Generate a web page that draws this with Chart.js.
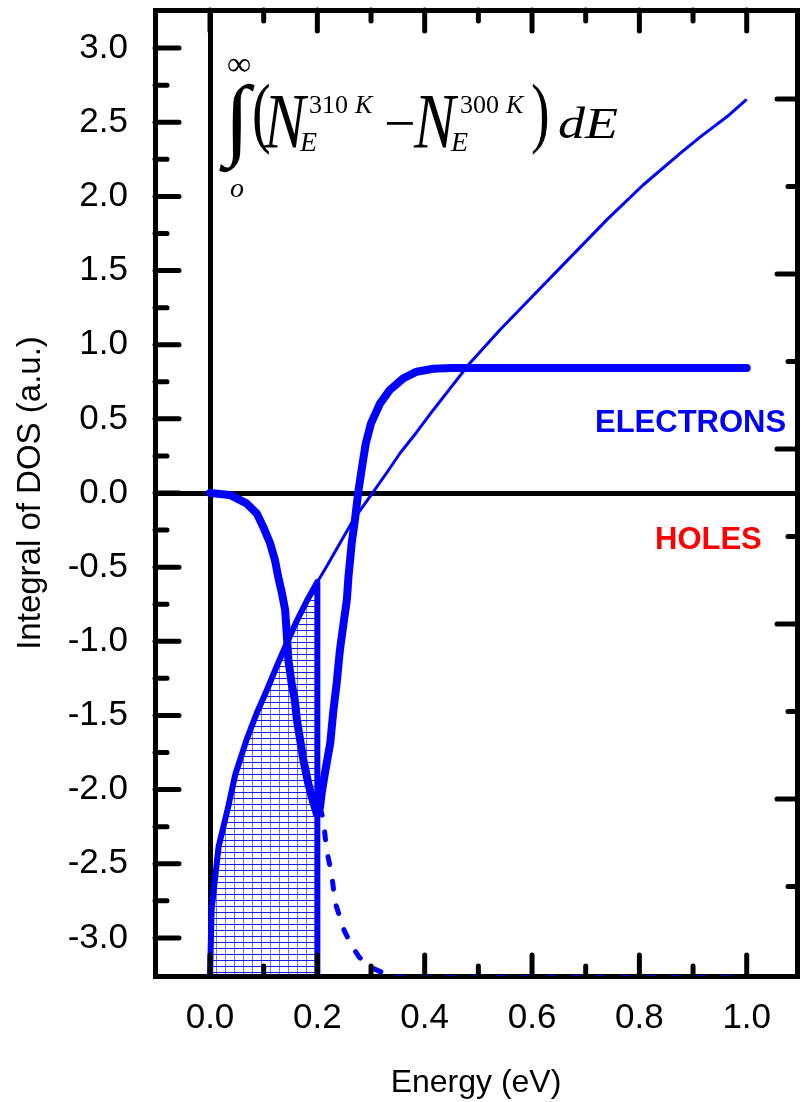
<!DOCTYPE html>
<html><head><meta charset="utf-8">
<script src="https://cdn.jsdelivr.net/npm/chart.js@4/dist/chart.umd.min.js"></script>
<style>html,body{margin:0;padding:0;background:#fff}canvas{display:block}</style>
</head><body>
<canvas id="c" width="801" height="1102"></canvas>
<script>
// ---------- DATA ----------
// total integral (thick lower part with hatched area, 0 .. 0.2 eV)
const leftE = [0.000, 0.003, 0.009, 0.016, 0.025, 0.034, 0.047, 0.068, 0.087, 0.106, 0.124, 0.143, 0.162, 0.180, 0.200];
const leftY = [-3.27, -2.81, -2.61, -2.385, -2.25, -2.115, -1.90, -1.665, -1.485, -1.328, -1.171, -1.013, -0.860, -0.730, -0.600];
// total integral (thin line, 0.2 .. 1.0 eV)
const totalE = [0.200, 0.217, 0.242, 0.267, 0.298, 0.330, 0.354, 0.385, 0.416, 0.450, 0.484, 0.540, 0.600, 0.660, 0.742, 0.807, 0.876, 0.913, 0.963, 1.000];
const totalY = [-0.600, -0.497, -0.339, -0.182, -0.025, 0.140, 0.268, 0.410, 0.560, 0.717, 0.875, 1.099, 1.323, 1.547, 1.852, 2.077, 2.290, 2.400, 2.537, 2.655];
// holes (thick, going down)
const holesE = [0.000, 0.037, 0.068, 0.087, 0.099, 0.112, 0.121, 0.127, 0.134, 0.140, 0.143, 0.146, 0.152, 0.158, 0.162, 0.168, 0.174, 0.183, 0.192, 0.199];
const holesY = [0.000, -0.013, -0.070, -0.137, -0.227, -0.339, -0.452, -0.564, -0.676, -0.789, -0.950, -1.126, -1.283, -1.396, -1.531, -1.666, -1.800, -1.958, -2.080, -2.160];
// holes (dashed continuation)
const dashE = [0.205, 0.211, 0.217, 0.227, 0.233, 0.250, 0.265, 0.278, 0.300, 0.322, 0.350, 1.000];
const dashY = [-2.120, -2.200, -2.400, -2.580, -2.760, -2.950, -3.060, -3.130, -3.200, -3.235, -3.268, -3.268];
// electrons (thick, rising to plateau)
const elecE = [0.199, 0.205, 0.208, 0.214, 0.224, 0.230, 0.236, 0.242, 0.248, 0.255, 0.258, 0.264, 0.270, 0.276, 0.283, 0.290, 0.300, 0.317, 0.335, 0.360, 0.385, 0.416, 0.450, 1.000];
const elecY = [-2.160, -2.120, -2.025, -1.890, -1.688, -1.463, -1.283, -1.060, -0.900, -0.720, -0.564, -0.339, -0.182, 0.000, 0.170, 0.330, 0.470, 0.605, 0.695, 0.773, 0.818, 0.838, 0.843, 0.843];

// ticks
const xMajorTicks = [0.0, 0.2, 0.4, 0.6, 0.8, 1.0];
const xMinorTicks = [0.1, 0.3, 0.5, 0.7, 0.9];
const yMajorTicks = [-3.0, -2.5, -2.0, -1.5, -1.0, -0.5, 0.0, 0.5, 1.0, 1.5, 2.0, 2.5, 3.0];
const yMinorTicks = [-2.75, -2.25, -1.75, -1.25, -0.75, -0.25, 0.25, 0.75, 1.25, 1.75, 2.25, 2.75];
const y2MajorTicks = [0, 1, 2, 3, 4];
const y2MinorTicks = [-0.5, 0.5, 1.5, 2.5, 3.5];

const xLabel = 'Energy (eV)';
const yLabel = 'Integral of DOS (a.u.)';

// ---------- helpers ----------
const pts = (E, Y) => E.map((e, i) => ({x: e, y: Y[i]}));
const near = (a, list) => list.some(v => Math.abs(v - a) < 1e-6);

const canvas = document.getElementById('c');
const mctx = canvas.getContext('2d');
function makeHatch() {
  const c = document.createElement('canvas');
  c.width = 9; c.height = 6;
  const g = c.getContext('2d');
  g.fillStyle = 'rgba(0,0,255,0.55)';
  g.fillRect(0, 0, 1, 6);
  g.fillStyle = 'rgba(0,0,220,0.9)';
  g.fillRect(0, 0, 9, 1);
  return mctx.createPattern(c, 'repeat');
}

const hatchData = pts(leftE, leftY).concat([{x: leftE[leftE.length - 1], y: -3.4}]);

// ---------- plugins ----------
const tickMarks = {
  id: 'tickMarks',
  afterDraw(chart) {
    const ctx = chart.ctx, a = chart.chartArea;
    ctx.save();
    ctx.strokeStyle = '#000'; ctx.lineWidth = 5; ctx.lineCap = 'round';
    const line = (x1, y1, x2, y2) => { ctx.beginPath(); ctx.moveTo(x1, y1); ctx.lineTo(x2, y2); ctx.stroke(); };
    const sx = chart.scales.x, sx2 = chart.scales.x2, sy = chart.scales.y, sy2 = chart.scales.y2;
    sx.ticks.forEach(t => { const p = sx.getPixelForValue(t.value); const L = near(t.value, xMajorTicks) ? 21 : 10; line(p, a.bottom, p, a.bottom - L); });
    sx2.ticks.forEach(t => { const p = sx2.getPixelForValue(t.value); const L = near(t.value, xMajorTicks) ? 21 : 11; line(p, a.top, p, a.top + L); });
    sy.ticks.forEach(t => { const p = sy.getPixelForValue(t.value); const L = near(t.value, yMajorTicks) ? 24 : 12; line(a.left, p, a.left + L, p); });
    sy2.ticks.forEach(t => { const p = sy2.getPixelForValue(t.value); const L = near(t.value, y2MajorTicks) ? 20 : 9; line(a.right, p, a.right - L, p); });
    ctx.restore();
  }
};

function txt(ctx, s, x, y, font, sy, color, sx) {
  ctx.save();
  ctx.font = font; ctx.fillStyle = color || '#000';
  ctx.textAlign = 'left'; ctx.textBaseline = 'alphabetic';
  ctx.translate(x, y); ctx.scale(sx || 1, sy || 1);
  ctx.fillText(s, 0, 0);
  ctx.restore();
}
const SERIF = '"Liberation Serif", "DejaVu Serif", serif';
const annotations = {
  id: 'annotations',
  afterDatasetsDraw(chart) {
    const ctx = chart.ctx;
    // formula
    txt(ctx, '\u221E', 227, 75, '34px ' + SERIF);
    txt(ctx, '\u222B', 224, 148, '72px ' + SERIF, 1.25, null, 1.3);
    txt(ctx, 'o', 230, 197, 'italic 28px ' + SERIF);
    txt(ctx, '(', 252, 138, '56px ' + SERIF, 1.4);
    txt(ctx, 'N', 264, 147, 'italic 62px ' + SERIF, 1.25);
    txt(ctx, '310', 309, 113, '26px ' + SERIF);
    txt(ctx, 'K', 355, 113, 'italic 26px ' + SERIF);
    txt(ctx, 'E', 300, 151, 'italic 28px ' + SERIF);
    txt(ctx, '\u2212', 384, 142, '56px ' + SERIF);
    txt(ctx, 'N', 414, 147, 'italic 62px ' + SERIF, 1.25);
    txt(ctx, '300', 460, 113, '26px ' + SERIF);
    txt(ctx, 'K', 506, 113, 'italic 26px ' + SERIF);
    txt(ctx, 'E', 451, 151, 'italic 28px ' + SERIF);
    txt(ctx, ')', 531, 138, '56px ' + SERIF, 1.4);
    txt(ctx, 'dE', 558, 138, 'italic 45px ' + SERIF, 1, null, 1.2);
    // labels
    txt(ctx, 'ELECTRONS', 595, 432, 'bold 31px "Liberation Sans", Arial, sans-serif', 1, '#0000ff');
    txt(ctx, 'HOLES', 655, 549, 'bold 31px "Liberation Sans", Arial, sans-serif', 1, '#ff0000');
  }
};

// ---------- chart ----------
const SANS = '"Liberation Sans", Arial, sans-serif';
const zeroColor = c => (c.tick && Math.abs(c.tick.value) < 1e-9) ? '#000' : 'rgba(0,0,0,0)';
const noPad = s => { s.paddingTop = 0; s.paddingBottom = 0; s.paddingLeft = 0; s.paddingRight = 0; };

new Chart(canvas, {
  type: 'line',
  data: {
    datasets: [
      { data: pts(elecE, elecY), borderColor: '#0000ff', borderWidth: 8, pointRadius: 0, fill: false, borderCapStyle: 'round', borderJoinStyle: 'round' },
      { data: pts(holesE, holesY), borderColor: '#0000ff', borderWidth: 8, pointRadius: 0, fill: false, borderCapStyle: 'round', borderJoinStyle: 'round' },
      { data: pts(dashE, dashY), borderColor: '#0000ff', borderWidth: 5, borderDash: [8, 17], pointRadius: 0, fill: false, borderCapStyle: 'round' },
      { data: pts(totalE, totalY), borderColor: '#0000ff', borderWidth: 3, pointRadius: 0, fill: false, borderJoinStyle: 'round' },
      { data: hatchData, borderColor: '#0000ff', borderWidth: 6, pointRadius: 0, fill: 'start', backgroundColor: makeHatch(), borderJoinStyle: 'round' }
    ]
  },
  options: {
    responsive: false, animation: false, devicePixelRatio: 1,
    layout: { padding: { left: 0, right: 4, top: 10, bottom: 0 } },
    plugins: { legend: { display: false }, tooltip: { enabled: false } },
    elements: { line: { tension: 0 } },
    scales: {
      x: {
        type: 'linear', position: 'bottom', min: -0.1025, max: 1.0937, z: 1,
        afterBuildTicks: s => { s.ticks = xMajorTicks.concat(xMinorTicks).sort((a, b) => a - b).map(v => ({value: v})); },
        afterFit: s => { s.height = 126; noPad(s); },
        ticks: { autoSkip: false, maxRotation: 0, padding: 21, color: '#000', font: { family: SANS, size: 35 },
                 callback: v => near(v, xMajorTicks) ? v.toFixed(1) : '' },
        grid: { drawTicks: false, lineWidth: 5, color: zeroColor },
        border: { display: true, color: '#000', width: 5 },
        title: { display: true, text: xLabel, color: '#000', font: { family: SANS, size: 32 }, padding: 0 }
      },
      x2: {
        type: 'linear', position: 'top', min: -0.1025, max: 1.0937,
        afterBuildTicks: s => { s.ticks = xMajorTicks.concat(xMinorTicks).sort((a, b) => a - b).map(v => ({value: v})); },
        afterFit: s => { s.height = 0; noPad(s); },
        ticks: { display: false },
        grid: { drawTicks: false, lineWidth: 5, color: 'rgba(0,0,0,0)' },
        border: { display: true, color: '#000', width: 5 }
      },
      y: {
        type: 'linear', position: 'left', min: -3.257, max: 3.257, z: 1,
        afterBuildTicks: s => { s.ticks = yMajorTicks.concat(yMinorTicks).sort((a, b) => a - b).map(v => ({value: v})); },
        afterFit: s => { s.width = 155; noPad(s); },
        ticks: { autoSkip: false, padding: 27, color: '#000', font: { family: SANS, size: 35 },
                 callback: v => near(v, yMajorTicks) ? v.toFixed(1) : '' },
        grid: { drawTicks: false, lineWidth: 5, color: zeroColor },
        border: { display: true, color: '#000', width: 5 },
        title: { display: true, text: yLabel, color: '#000', font: { family: SANS, size: 33 }, padding: { top: 11, bottom: 0 } }
      },
      y2: {
        type: 'linear', position: 'right', min: -1.0114, max: 4.5086,
        afterBuildTicks: s => { s.ticks = y2MajorTicks.concat(y2MinorTicks).sort((a, b) => a - b).map(v => ({value: v})); },
        afterFit: s => { s.width = 0; noPad(s); },
        ticks: { display: false },
        grid: { drawTicks: false, lineWidth: 5, color: 'rgba(0,0,0,0)' },
        border: { display: true, color: '#000', width: 5 }
      }
    }
  },
  plugins: [annotations, tickMarks]
});
</script>
</body></html>
